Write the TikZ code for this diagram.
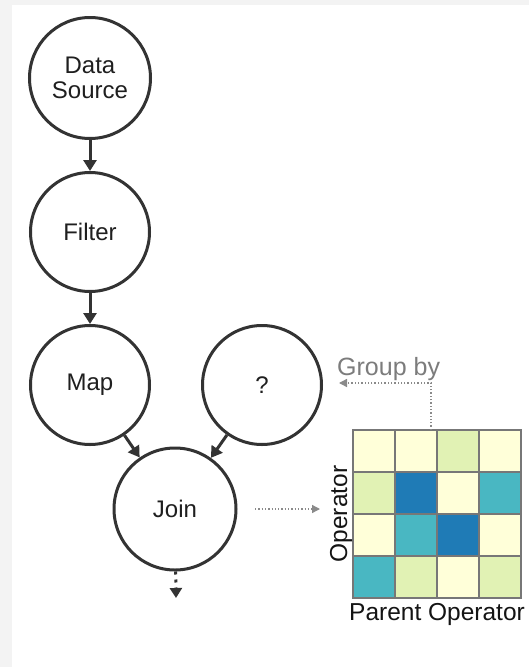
\documentclass[tikz,border=0pt]{standalone}
\usepackage{fontspec}
\setmainfont{Liberation Sans}
\usetikzlibrary{arrows.meta}
\definecolor{ink}{HTML}{333333}
\definecolor{pagegray}{HTML}{F3F3F3}
\definecolor{hintgray}{HTML}{8A8A8A}
\definecolor{gridgray}{HTML}{777777}
\definecolor{ylw}{HTML}{FFFFD9}
\definecolor{lgn}{HTML}{E1F2B4}
\definecolor{tea}{HTML}{49B7C2}
\definecolor{dbl}{HTML}{1F7BB6}
\begin{document}
\begin{tikzpicture}[x=1pt,y=-1pt,
  op/.style={circle, draw=ink, line width=3pt, minimum size=119pt, inner sep=0pt,
    font=\fontsize{24}{25}\selectfont, align=center, text=black!88},
  flow/.style={draw=ink, line width=3pt, -{Triangle[length=11pt,width=13pt]}},
  hint/.style={draw=hintgray, line width=1.3pt, dotted, -{Triangle[length=8pt,width=8pt]}},
  cell/.style={draw=gridgray, line width=1.5pt, minimum size=42pt, inner sep=0pt},
  lbl/.style={font=\fontsize{24.5}{26}\selectfont, text=black!92, inner sep=0pt}]
% page frame
\useasboundingbox (0,0) rectangle (529,667);
\fill[pagegray] (0,0) rectangle (529,667);
\fill[white] (12,5) rectangle (529,667);

% operator graph
\node[op, minimum size=121pt] (src) at (90,78) {Data\\Source};
\node[op] (filt) at (90,232) {Filter};
\node[op] (map) at (90,385) {Map};
\node[op] (unk) at (262,385) {?};
\node[op, minimum size=122pt] (join) at (175,509) {Join};

\draw[flow] (src) -- (filt);
\draw[flow] (filt) -- (map);
\draw[flow] (map) -- (join);
\draw[flow] (unk) -- (join);

\coordinate (out) at (176,598);
\draw[draw=ink, line width=3pt, dash pattern=on 3pt off 5pt,
  -{Triangle[length=10pt,width=12pt]}] (join) -- (out);

% heat matrix
\foreach \row [count=\r] in {{ylw,ylw,lgn,ylw}, {lgn,dbl,ylw,tea},
                             {ylw,tea,dbl,ylw}, {tea,lgn,ylw,lgn}} {
  \foreach \col [count=\c] in \row {
    \node[cell, fill=\col] (c-\r-\c) at ({374+42*(\c-1)},{451+42*(\r-1)}) {};
  }
}
\node[lbl, rotate=90] (oplbl) at (341,514) {Operator};
\node[lbl, anchor=base] (parlbl) at (437,620) {Parent Operator};

% hints
\coordinate (jfrom) at (255,509);
\coordinate (jto) at (320,509);
\draw[hint] (jfrom) -- (jto);

\coordinate (gbfoot) at (431,430);
\coordinate (gbcorner) at (431,383);
\coordinate (gbtip) at (339,383);
\draw[hint] (gbfoot) -- (gbcorner) -- (gbtip);
\node[lbl, font=\fontsize{25}{26}\selectfont, anchor=base west, text=hintgray!90!black] (gblbl) at (337,375) {Group by};
\end{tikzpicture}
\end{document}
